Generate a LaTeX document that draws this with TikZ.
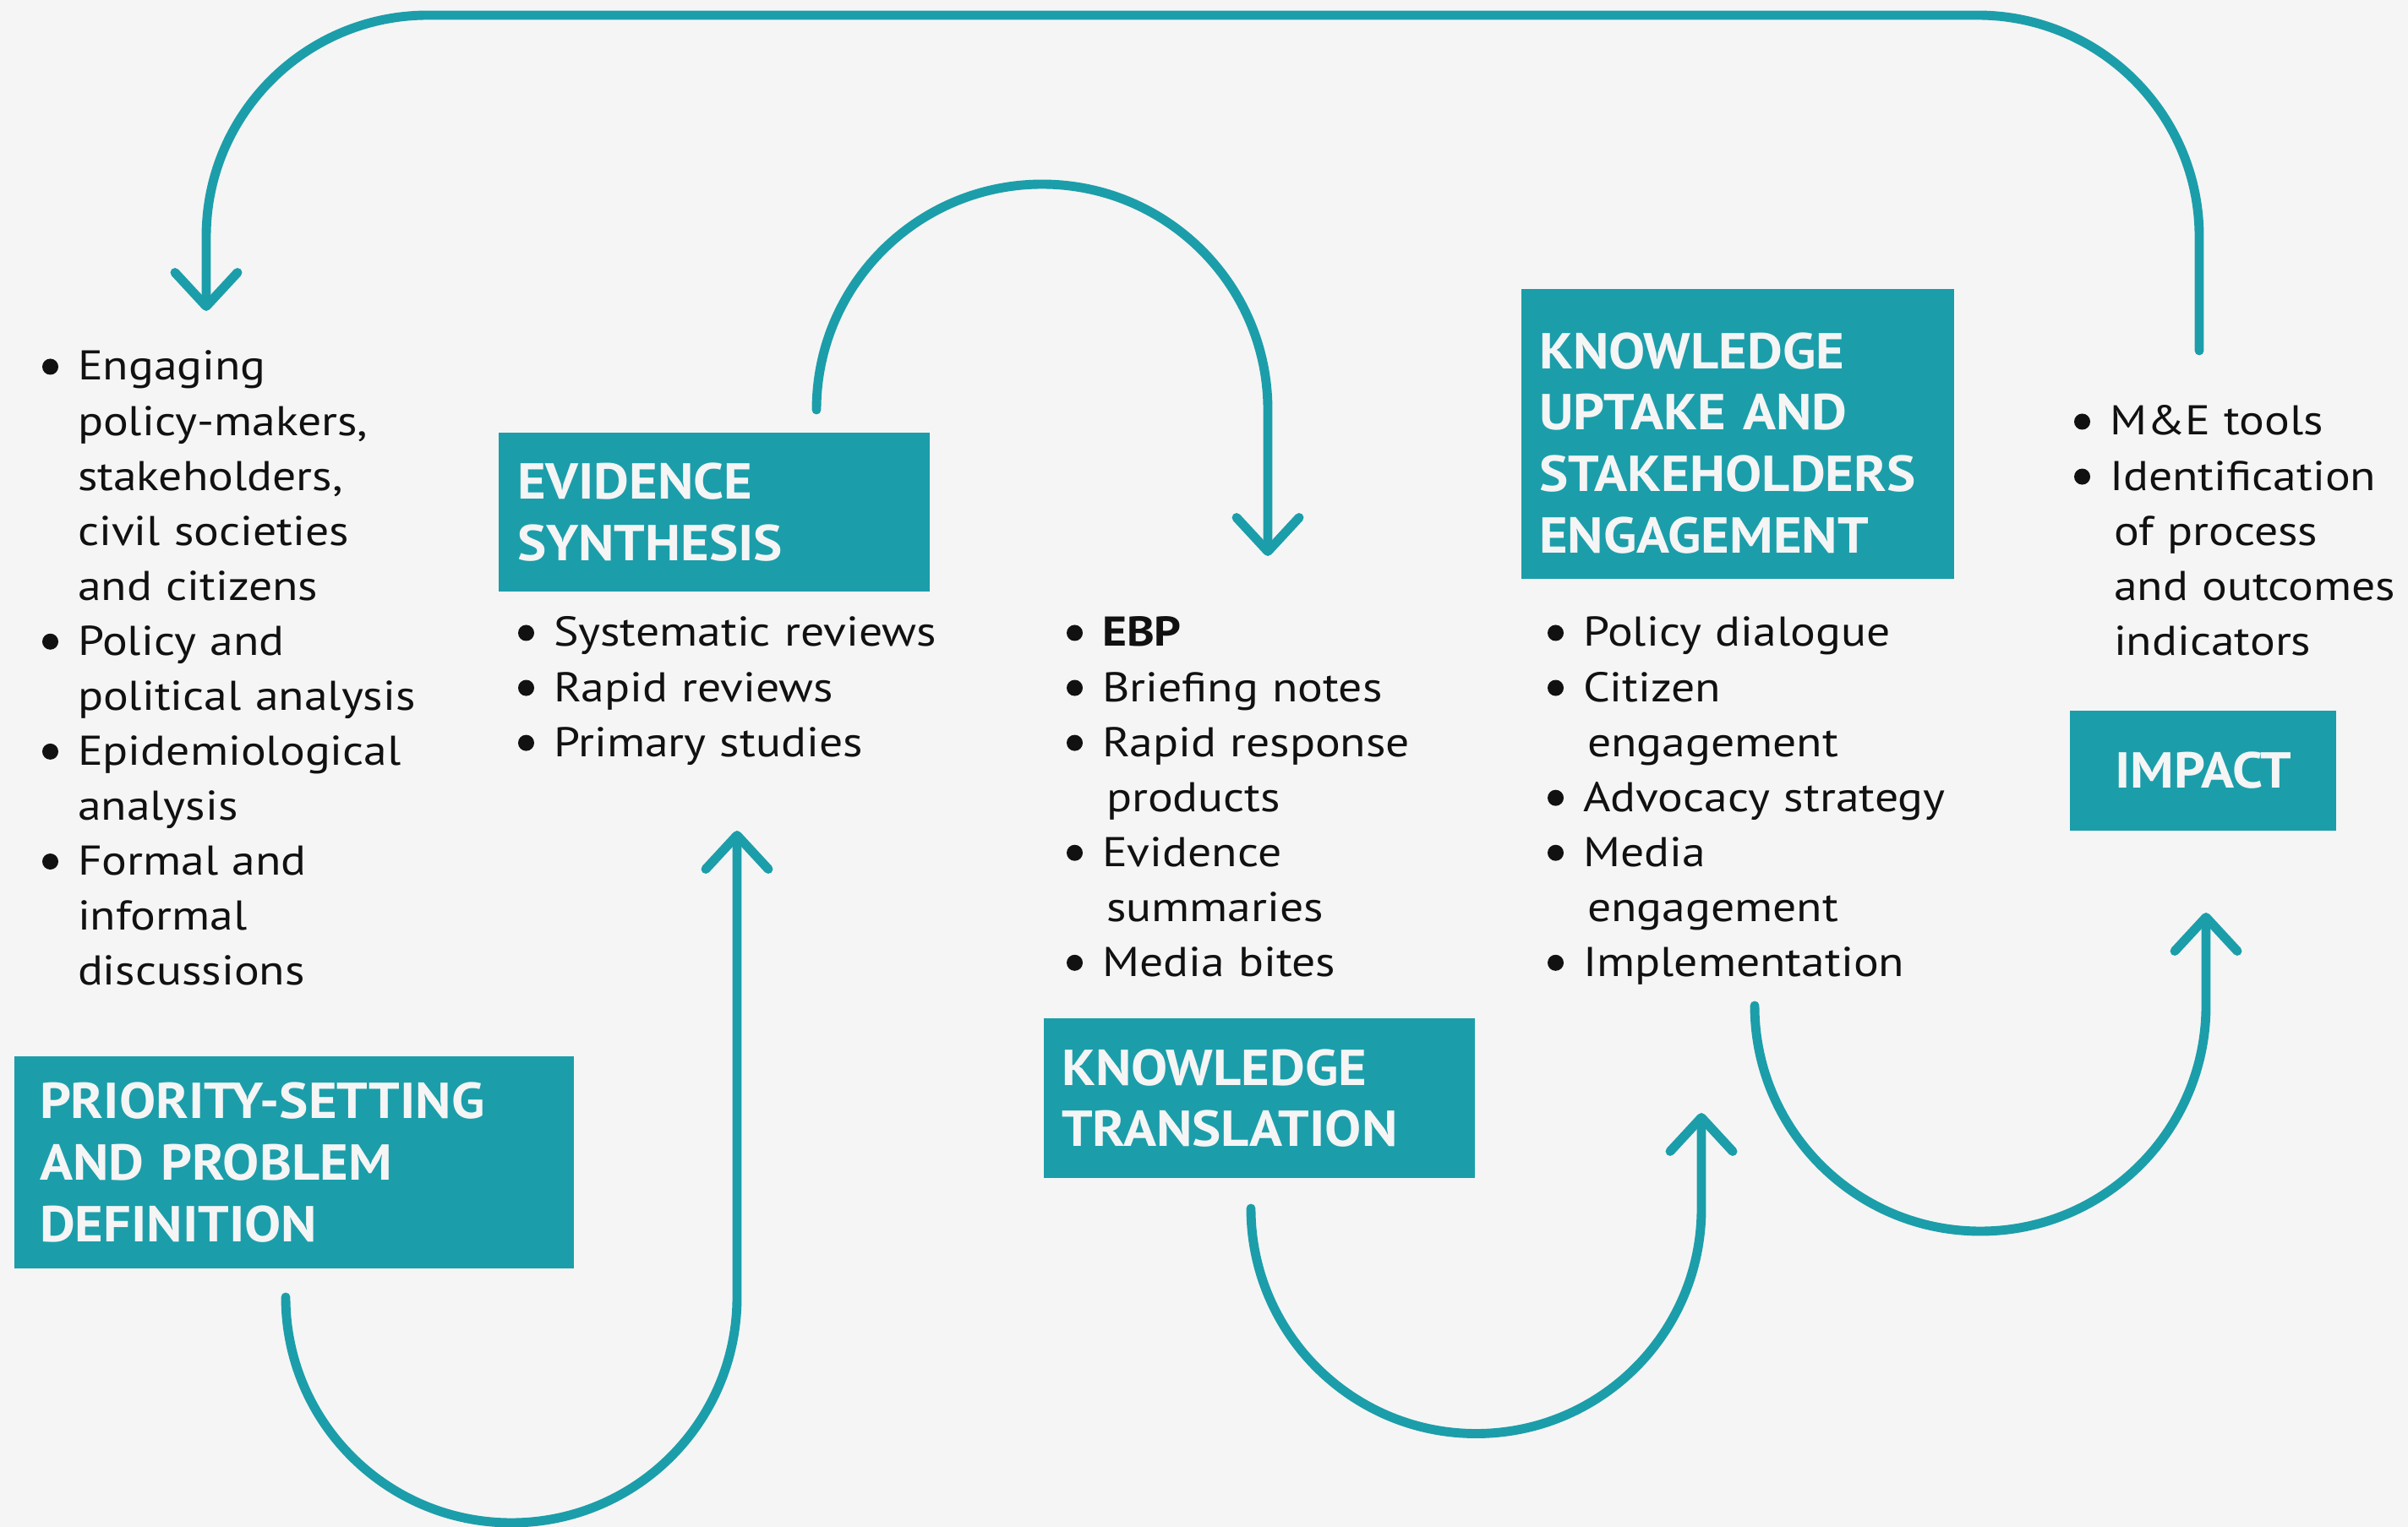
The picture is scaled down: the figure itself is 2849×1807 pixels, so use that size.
\documentclass[tikz,border=0pt]{standalone}
\usepackage{fontspec}
\setmainfont{PT Sans}[UprightFeatures={FakeStretch=1.13},BoldFeatures={FakeStretch=1.13}]
\newfontfamily\headfont{PT Sans}[UprightFeatures={FakeStretch=1.08},BoldFeatures={FakeStretch=1.08}]
\usetikzlibrary{arrows.meta}
\definecolor{tealbox}{RGB}{27,158,170}
\definecolor{paper}{RGB}{245,245,245}
\definecolor{ink}{RGB}{17,17,17}
\newcommand{\itm}{\makebox[0.42cm][l]{\tikz[baseline=0pt]\fill(0.1cm,0.16cm)circle(0.095cm);}}
\newcommand{\cnt}{\hspace*{0.42cm}}
\newcommand{\cntt}{\hspace*{0.47cm}}

\begin{document}
\begin{tikzpicture}[x=0.01cm,y=-0.01cm,
	stage/.style={anchor=north west,fill=tealbox,text=paper,outer sep=0pt,inner ysep=0pt,align=left,font=\headfont\fontsize{17}{20.7}\selectfont\bfseries},
	items/.style={anchor=base west,inner sep=0pt,outer sep=0pt,text=ink,align=left,text width=6cm,font=\fontsize{14}{18.5}\selectfont},
	flow/.style={draw=tealbox,line width=3.1pt,line cap=round,-{Straight Barb[length=4mm,width=7.4mm,round]}}]
	\fill[paper](0,0)rectangle(2849,1807);
	\useasboundingbox(0,0)rectangle(2849,1807);
	\node[stage,minimum width=6.62cm,minimum height=2.51cm,text width=6.02cm,inner xsep=0.3cm](prio)at(17,1250){PRIORITY-SETTING\\AND PROBLEM\\DEFINITION};
	\node[stage,minimum width=5.1cm,minimum height=1.88cm,text width=4.66cm,inner xsep=0.22cm](synth)at(590,512){EVIDENCE\\SYNTHESIS};
	\node[stage,minimum width=5.1cm,minimum height=1.89cm,text width=4.68cm,inner xsep=0.21cm](transl)at(1235,1205){KNOWLEDGE\\TRANSLATION};
	\node[stage,minimum width=5.12cm,minimum height=3.43cm,text width=4.7cm,inner xsep=0.21cm,text height=0.64cm](uptake)at(1800,342){KNOWLEDGE\\UPTAKE AND\\STAKEHOLDERS\\ENGAGEMENT};
	\node[stage,minimum width=3.15cm,minimum height=1.42cm,text width=2.73cm,inner xsep=0.21cm,align=center](impact)at(2449,841){IMPACT};
	\node[items](prioitems)at(50,450){\itm Engaging\\\cnt policy-makers,\\\cnt stakeholders,\\\cnt civil societies\\\cnt and citizens\\\itm Policy and\\\cnt political analysis\\\itm Epidemiological\\\cnt analysis\\\itm Formal and\\\cnt informal\\\cnt discussions};
	\node[items](synthitems)at(613,765){\itm Systematic reviews\\\itm Rapid reviews\\\itm Primary studies};
	\node[items](translitems)at(1262,765){\itm\textbf{EBP}\\\itm Briefing notes\\\itm Rapid response\\\cntt products\\\itm Evidence\\\cntt summaries\\\itm Media bites};
	\node[items](uptakeitems)at(1831,765){\itm Policy dialogue\\\itm Citizen\\\cntt engagement\\\itm Advocacy strategy\\\itm Media\\\cntt engagement\\\itm Implementation};
	\node[items](impactitems)at(2454,515){\itm M\&E tools\\\itm Identification\\\cntt of process\\\cntt and outcomes\\\cntt indicators};
	\coordinate(s1)at(338,1535);
	\coordinate(e1)at(872,983);
	\coordinate(s2)at(966,485);
	\coordinate(e2)at(1500,658);
	\coordinate(s3)at(1480,1430);
	\coordinate(e3)at(2013,1317);
	\coordinate(s4)at(2076,1190);
	\coordinate(e4)at(2610,1080);
	\coordinate(s5)at(2602,415);
	\coordinate(rim)at(1400,18);
	\coordinate(e5)at(244,368);
	\draw[flow](s1)arc[start angle=180,end angle=0,radius=267]--(e1);
	\draw[flow](s2)arc[start angle=180,end angle=360,radius=267]--(e2);
	\draw[flow](s3)arc[start angle=180,end angle=0,radius=266.5]--(e3);
	\draw[flow](s4)arc[start angle=180,end angle=0,radius=267]--(e4);
	\draw[flow,rounded corners=2.62cm](s5)|-(rim)-|(e5);
\end{tikzpicture}
\end{document}
